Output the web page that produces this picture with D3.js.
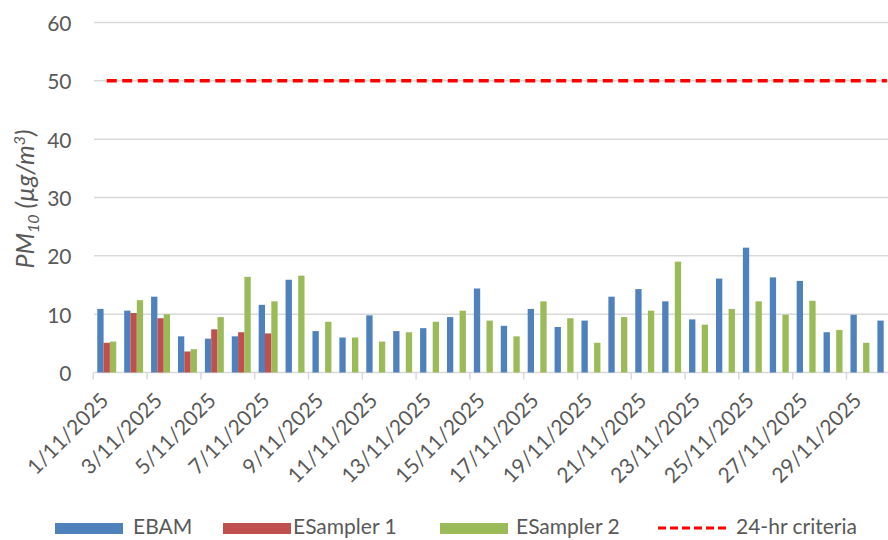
<!DOCTYPE html>
<html>
<head>
<meta charset="utf-8">
<script src="https://cdnjs.cloudflare.com/ajax/libs/d3/7.8.5/d3.min.js"></script>
<style>
  html, body { margin: 0; padding: 0; background: #fff; }
  svg { display: block; }
  text { font-family: Lato, "Noto Sans", sans-serif; fill: #595959; }
</style>
</head>
<body>
<svg id="chart" width="888" height="540"></svg>
<script>
const categories = ["1/11/2025","2/11/2025","3/11/2025","4/11/2025","5/11/2025","6/11/2025","7/11/2025","8/11/2025","9/11/2025","10/11/2025",
  "11/11/2025","12/11/2025","13/11/2025","14/11/2025","15/11/2025","16/11/2025","17/11/2025","18/11/2025","19/11/2025","20/11/2025",
  "21/11/2025","22/11/2025","23/11/2025","24/11/2025","25/11/2025","26/11/2025","27/11/2025","28/11/2025","29/11/2025","30/11/2025"];
const ebam = [10.9,10.6,13.0,6.2,5.8,6.2,11.6,15.9,7.1,6.0,9.8,7.1,7.6,9.5,14.4,8.0,10.9,7.8,8.9,13.0,14.3,12.2,9.1,16.1,21.4,16.3,15.7,6.9,9.9,8.9];
const esampler1 = [5.1,10.2,9.3,3.6,7.4,6.9,6.7,null,null,null,null,null,null,null,null,null,null,null,null,null,null,null,null,null,null,null,null,null,null,null];
const esampler2 = [5.3,12.4,10.0,4.0,9.5,16.4,12.2,16.6,8.7,6.0,5.3,6.9,8.7,10.6,8.9,6.2,12.2,9.3,5.1,9.5,10.6,19.0,8.2,10.9,12.2,9.9,12.3,7.3,5.1,null];
const criteria = categories.map(() => 50);
const seriesNames = ["EBAM","ESampler 1","ESampler 2"];
const criteriaName = "24-hr criteria";
const yTicks = [0,10,20,30,40,50,60];
const xLabelEvery = 2;

const colors = {"EBAM":"#4F81BD","ESampler 1":"#C0504D","ESampler 2":"#9BBB59"};
const svg = d3.select("#chart");
const W = 888, H = 540;
const plot = {left: 93.3, right: 900.3, top: 22.5, bottom: 372.5};

const x = d3.scaleBand().domain(categories).range([plot.left, plot.right]).padding(0);
const x1 = d3.scaleBand().domain(seriesNames).range([0, x.bandwidth()]).paddingInner(0).paddingOuter(0.63);
const y = d3.scaleLinear().domain([0,60]).range([plot.bottom, plot.top]);

svg.append("defs").append("clipPath").attr("id","clip")
  .append("rect").attr("x",0).attr("y",0).attr("width",W).attr("height",H);

// gridlines
svg.append("g").selectAll("line").data(yTicks).join("line")
  .attr("x1", 94).attr("x2", W)
  .attr("y1", d => y(d)).attr("y2", d => y(d))
  .attr("stroke", "#D9D9D9").attr("stroke-width", 1.5);

// y labels
svg.append("g").selectAll("text").data(yTicks).join("text")
  .attr("x", 71.5).attr("y", d => y(d) + 8.5)
  .attr("text-anchor","end").style("font-size","21px")
  .text(d => d);

// x tick marks
const tickIdx = d3.range(0, categories.length + 1, xLabelEvery);
svg.append("g").selectAll("line").data(tickIdx).join("line")
  .attr("x1", i => plot.left + i * x.step()).attr("x2", i => plot.left + i * x.step())
  .attr("y1", plot.bottom).attr("y2", plot.bottom + 7)
  .attr("stroke", "#D9D9D9").attr("stroke-width", 1.5);

// bars
const seriesData = {"EBAM": ebam, "ESampler 1": esampler1, "ESampler 2": esampler2};
const gBars = svg.append("g").attr("clip-path","url(#clip)");
seriesNames.forEach(s => {
  const rows = categories.map((c,i) => ({c, v: seriesData[s][i]})).filter(d => d.v != null);
  gBars.append("g").selectAll("rect").data(rows).join("rect")
    .attr("x", d => x(d.c) + x1(s))
    .attr("width", x1.bandwidth())
    .attr("y", d => y(d.v))
    .attr("height", d => y(0) - y(d.v))
    .attr("fill", colors[s]);
});

// criteria line
const line = d3.line().x((d,i) => x(categories[i]) + x.bandwidth()/2).y(d => y(d));
svg.append("path").datum(criteria)
  .attr("d", line).attr("fill","none")
  .attr("stroke","#FF0000").attr("stroke-width",3.5)
  .attr("stroke-dasharray","10,5.5");

// x labels
svg.append("g").selectAll("text").data(categories.filter((c,i) => i % xLabelEvery === 0)).join("text")
  .attr("transform", d => `translate(${x(d) + x.bandwidth()/2 + 3},${402}) rotate(-45)`)
  .attr("text-anchor","end").style("font-size","21px")
  .text(d => d);

// y axis title
const yt = svg.append("text")
  .attr("transform", "translate(34,199) rotate(-90)")
  .attr("text-anchor","middle").style("font-size","25px").style("font-style","italic");
yt.append("tspan").text("PM");
yt.append("tspan").attr("dy", 5).style("font-size","16px").text("10");
yt.append("tspan").attr("dy", -5).text(" (µg/m");
yt.append("tspan").attr("dy", -9).style("font-size","16px").text("3");
yt.append("tspan").attr("dy", 9).text(")");

// legend
const legend = [
  {name:"EBAM", sx:55, tx:133},
  {name:"ESampler 1", sx:223, tx:293},
  {name:"ESampler 2", sx:440, tx:516},
  {name:criteriaName, sx:658, tx:736}
];
const lg = svg.append("g");
legend.forEach(l => {
  if (l.name === criteriaName) {
    lg.append("line").attr("x1", l.sx).attr("x2", l.sx + 70).attr("y1", 528).attr("y2", 528)
      .attr("stroke","#FF0000").attr("stroke-width",3).attr("stroke-dasharray","8,4");
  } else {
    lg.append("rect").attr("x", l.sx).attr("y", 523).attr("width", 68).attr("height", 11)
      .attr("fill", colors[l.name]);
  }
  lg.append("text").attr("x", l.tx).attr("y", 534).style("font-size","21px").text(l.name);
});
</script>
</body>
</html>
